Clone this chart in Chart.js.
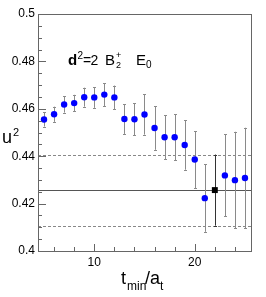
<!DOCTYPE html>
<html>
<head>
<meta charset="utf-8">
<script src="https://cdn.jsdelivr.net/npm/chart.js@4.4.1/dist/chart.umd.min.js"></script>
<style>
  html, body { margin: 0; padding: 0; background: #fff; }
  #wrap { width: 266px; height: 297px; }
</style>
</head>
<body>
<div id="wrap"><canvas id="c" width="266" height="297"></canvas></div>
<script>
// ---- data ----
const tMin = [5, 6, 7, 8, 9, 10, 11, 12, 13, 14, 15, 16, 17, 18, 19, 20, 21, 23, 24, 25];
const u2 = [0.4555, 0.4577, 0.4618, 0.4624, 0.4649, 0.4648, 0.4660, 0.4648, 0.4557, 0.4556,
            0.4576, 0.4519, 0.4480, 0.4480, 0.4447, 0.4386, 0.4223, 0.4319, 0.4299, 0.4308];
const u2Err = [0.0030, 0.0032, 0.0034, 0.0035, 0.0040, 0.0044, 0.0048, 0.0050, 0.0063, 0.0067,
               0.0085, 0.0092, 0.0093, 0.0096, 0.0104, 0.0120, 0.0142, 0.0173, 0.0204, 0.0212];

// chosen fit window
const fitT = [22];
const fitU2 = [0.4257];
const fitErr = [0.0150];

const yTicks = [0.4, 0.42, 0.44, 0.46, 0.48, 0.5];
const yTickLabels = ['0.4', '0.42', '0.44', '0.46', '0.48', '0.5'];
const xTicks = [10, 20];
const xTickLabels = ['10', '20'];

const FONT = '"Liberation Sans", Arial, Helvetica, sans-serif';

// ---- error bars + fit band, drawn under the markers ----
const errorBarPlugin = {
    id: 'errorBars',
    beforeDatasetsDraw(chart) {
        const { ctx, chartArea: a, scales: { x, y } } = chart;
        ctx.save();

        // fit value and band
        const yc = y.getPixelForValue(fitU2[0]);
        const yHi = y.getPixelForValue(fitU2[0] + fitErr[0]);
        const yLo = y.getPixelForValue(fitU2[0] - fitErr[0]);
        ctx.lineWidth = 1;
        ctx.strokeStyle = '#555';
        ctx.beginPath();
        ctx.moveTo(a.left, Math.round(yc) + 0.5);
        ctx.lineTo(a.right, Math.round(yc) + 0.5);
        ctx.stroke();
        ctx.strokeStyle = '#888';
        ctx.setLineDash([3, 2]);
        [yHi, yLo].forEach(py => {
            ctx.beginPath();
            ctx.moveTo(a.left, Math.round(py) + 0.5);
            ctx.lineTo(a.right, Math.round(py) + 0.5);
            ctx.stroke();
        });
        ctx.setLineDash([]);

        const drawBar = (t, v, e, color) => {
            const px = Math.round(x.getPixelForValue(t)) + 0.5;
            const top = y.getPixelForValue(v + e);
            const bot = y.getPixelForValue(v - e);
            ctx.strokeStyle = color;
            ctx.beginPath();
            ctx.moveTo(px, top);
            ctx.lineTo(px, bot);
            ctx.moveTo(px - 1.5, Math.round(top) + 0.5);
            ctx.lineTo(px + 1.5, Math.round(top) + 0.5);
            ctx.moveTo(px - 1.5, Math.round(bot) + 0.5);
            ctx.lineTo(px + 1.5, Math.round(bot) + 0.5);
            ctx.stroke();
        };
        tMin.forEach((t, i) => drawBar(t, u2[i], u2Err[i], '#8a8a8a'));
        fitT.forEach((t, i) => drawBar(t, fitU2[i], fitErr[i], '#333'));
        ctx.restore();
    }
};

// ---- ROOT-style frame, inward ticks, labels ----
const framePlugin = {
    id: 'frame',
    afterDraw(chart) {
        const { ctx, chartArea: a, scales: { x, y } } = chart;
        ctx.save();
        ctx.strokeStyle = '#666';
        ctx.lineWidth = 1;
        ctx.strokeRect(Math.round(a.left) + 0.5, Math.round(a.top) + 0.5,
                       Math.round(a.right - a.left), Math.round(a.bottom - a.top));

        // y ticks (major 0.02, minor 0.005)
        ctx.beginPath();
        for (let k = 0; k <= 20; k++) {
            const v = 0.4 + k * 0.005;
            const py = Math.round(y.getPixelForValue(v)) + 0.5;
            const len = (k % 4 === 0) ? 8 : 4;
            ctx.moveTo(a.left, py);
            ctx.lineTo(a.left + len, py);
        }
        // x ticks (major 10, minor 2)
        for (let t = 6; t <= 24; t += 2) {
            const px = Math.round(x.getPixelForValue(t)) + 0.5;
            const len = (t % 10 === 0) ? 7 : 4;
            ctx.moveTo(px, a.bottom);
            ctx.lineTo(px, a.bottom - len);
        }
        ctx.stroke();

        ctx.fillStyle = '#000';
        ctx.font = '12px ' + FONT;
        ctx.textAlign = 'right';
        ctx.textBaseline = 'middle';
        yTicks.forEach((v, i) => ctx.fillText(yTickLabels[i], a.left - 3, y.getPixelForValue(v)));
        ctx.textAlign = 'center';
        ctx.textBaseline = 'top';
        xTicks.forEach((v, i) => ctx.fillText(xTickLabels[i], x.getPixelForValue(v), a.bottom + 6));

        // axis titles
        ctx.textAlign = 'left';
        ctx.textBaseline = 'alphabetic';
        ctx.font = '18px ' + FONT;
        ctx.fillText('u', 2, 143);
        ctx.font = '11px ' + FONT;
        ctx.fillText('2', 13, 136);

        ctx.font = '18px ' + FONT;
        ctx.fillText('t', 121, 284);
        ctx.font = '12px ' + FONT;
        ctx.fillText('min', 127, 290);
        ctx.font = '18px ' + FONT;
        ctx.fillText('/', 145, 284);
        ctx.fillText('a', 150, 284);
        ctx.font = '12px ' + FONT;
        ctx.fillText('t', 160, 290);

        // channel label
        ctx.font = 'bold 15px ' + FONT;
        ctx.fillText('d', 68, 65);
        ctx.font = '10px ' + FONT;
        ctx.fillText('2', 77.5, 59);
        ctx.font = '14px ' + FONT;
        ctx.fillText('=', 83, 65);
        ctx.fillText('2', 90.5, 65);
        ctx.font = '15px ' + FONT;
        ctx.fillText('B', 105, 65);
        ctx.font = '9px ' + FONT;
        ctx.fillText('+', 116, 58);
        ctx.fillText('2', 116, 68);
        ctx.font = '15px ' + FONT;
        ctx.fillText('E', 136, 65);
        ctx.font = '10px ' + FONT;
        ctx.fillText('0', 146, 68);
        ctx.restore();
    }
};

const chart = new Chart(document.getElementById('c'), {
    type: 'scatter',
    data: {
        datasets: [
            {
                label: 'u2',
                data: tMin.map((t, i) => ({ x: t, y: u2[i] })),
                backgroundColor: '#0000ff',
                borderWidth: 0,
                pointRadius: 3.2,
                pointHoverRadius: 3.2
            },
            {
                label: 'fit',
                data: fitT.map((t, i) => ({ x: t, y: fitU2[i] })),
                pointStyle: 'rect',
                backgroundColor: '#000',
                borderWidth: 0,
                pointRadius: 4.2,
                pointHoverRadius: 4.2
            }
        ]
    },
    options: {
        responsive: false,
        animation: false,
        devicePixelRatio: 1,
        layout: { padding: { left: 38, right: 15, top: 14, bottom: 46 } },
        plugins: { legend: { display: false }, tooltip: { enabled: false } },
        scales: {
            x: { type: 'linear', min: 4.4, max: 25.6, display: false },
            y: { type: 'linear', min: 0.4, max: 0.5, display: false }
        }
    },
    plugins: [errorBarPlugin, framePlugin]
});
</script>
</body>
</html>
